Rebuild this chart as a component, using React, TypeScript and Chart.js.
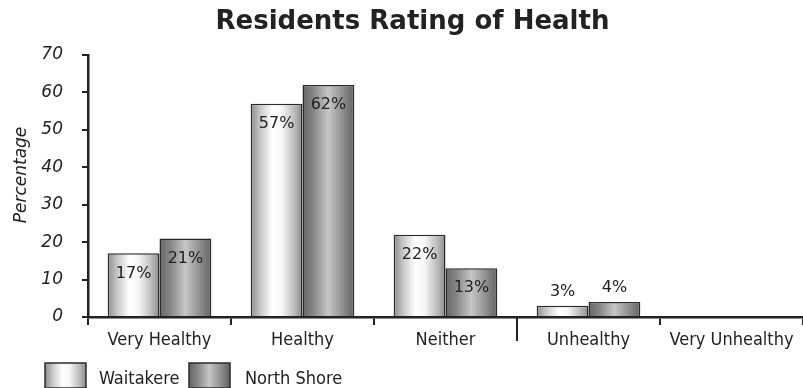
import { useEffect, useRef } from "react";
import { Chart, registerables } from "chart.js";

Chart.register(...registerables);

// ---- data ----
const categories = ["Very Healthy", "Healthy", "Neither", "Unhealthy", "Very Unhealthy"];
const seriesNames = ["Waitakere", "North Shore"];
const waitakere: (number | null)[] = [17, 57, 22, 3, null];
const northShore: (number | null)[] = [21, 62, 13, 4, null];
const yMin = 0;
const yMax = 70;
const yStep = 10;
const yAxisTitle = "Percentage";

// ---- styling ----
const INK = "#222222";
const EDGE = "#2b2b2b";
const CAT_PCT = 0.725;

type Stops = [number, string][];
const waitakereStops: Stops = [
  [0, "#8c8c8c"],
  [0.18, "#c6c6c6"],
  [0.42, "#ffffff"],
  [0.6, "#f6f6f6"],
  [0.84, "#bcbcbc"],
  [1, "#8a8a8a"],
];
const northShoreStops: Stops = [
  [0, "#666666"],
  [0.2, "#858585"],
  [0.5, "#c6c6c6"],
  [0.8, "#8a8a8a"],
  [1, "#626262"],
];
const seriesStops = [waitakereStops, northShoreStops];

function makeGradient(ctx: CanvasRenderingContext2D, left: number, width: number, stops: Stops) {
  const g = ctx.createLinearGradient(left, 0, left + width, 0);
  stops.forEach(([o, c]) => g.addColorStop(o, c));
  return g;
}

// Horizontal "cylinder" shading for each bar, computed from the category scale.
function barFill(stops: Stops, dsIndex: number) {
  return (c: any) => {
    const chart = c.chart;
    const x = chart.scales?.x;
    if (!x || c.dataIndex === undefined) return stops[2][1];
    const catW = x.width / categories.length;
    const groupW = catW * CAT_PCT;
    const barW = groupW / 2;
    const center = x.getPixelForValue(c.dataIndex);
    const left = center - groupW / 2 + dsIndex * barW;
    if (!Number.isFinite(left) || !Number.isFinite(barW) || barW <= 0) return stops[2][1];
    return makeGradient(chart.ctx, left, barW, stops);
  };
}

// Percentage labels: inside the top of tall bars, above short ones.
const valueLabels = {
  id: "valueLabels",
  afterDatasetsDraw(chart: any) {
    const ctx: CanvasRenderingContext2D = chart.ctx;
    ctx.save();
    ctx.font = "16px 'DejaVu Sans'";
    ctx.fillStyle = INK;
    ctx.textAlign = "center";
    ctx.textBaseline = "middle";
    chart.data.datasets.forEach((ds: any, di: number) => {
      const meta = chart.getDatasetMeta(di);
      meta.data.forEach((el: any, i: number) => {
        const v = ds.data[i];
        if (v == null) return;
        const y = v >= 10 ? el.y + 20 : el.y - 14;
        ctx.fillText(`${v}%`, el.x, y);
      });
    });
    ctx.restore();
  },
};

// Rotated y-axis caption, sitting a little above the plot's middle.
const yCaption = {
  id: "yCaption",
  afterDraw(chart: any) {
    const ctx: CanvasRenderingContext2D = chart.ctx;
    const area = chart.chartArea;
    ctx.save();
    ctx.translate(22, (area.top + area.bottom) / 2 - 11);
    ctx.rotate(-Math.PI / 2);
    ctx.font = "italic 17px 'DejaVu Sans'";
    ctx.fillStyle = INK;
    ctx.textAlign = "center";
    ctx.textBaseline = "middle";
    ctx.fillText(yAxisTitle, 0, 0);
    ctx.restore();
  },
};

// Longer divider tick between "Neither" and "Unhealthy".
const midDivider = {
  id: "midDivider",
  afterDraw(chart: any) {
    const x = chart.scales.x;
    const ctx: CanvasRenderingContext2D = chart.ctx;
    const px = (x.getPixelForValue(2) + x.getPixelForValue(3)) / 2;
    ctx.save();
    ctx.strokeStyle = INK;
    ctx.lineWidth = 2;
    ctx.beginPath();
    ctx.moveTo(px, chart.chartArea.bottom);
    ctx.lineTo(px, chart.chartArea.bottom + 24);
    ctx.stroke();
    ctx.restore();
  },
};

// Legend swatches in the bottom-left corner.
const swatchLegend = {
  id: "swatchLegend",
  afterDraw(chart: any) {
    const ctx: CanvasRenderingContext2D = chart.ctx;
    const boxW = 41;
    const boxH = 25;
    const top = chart.height - 25;
    const items = [
      { x: 45, textX: 99 },
      { x: 189, textX: 245 },
    ];
    ctx.save();
    items.forEach((it, i) => {
      ctx.fillStyle = makeGradient(ctx, it.x, boxW, seriesStops[i]);
      ctx.fillRect(it.x, top, boxW, boxH);
      ctx.strokeStyle = EDGE;
      ctx.lineWidth = 1.5;
      ctx.strokeRect(it.x, top, boxW, boxH);
      ctx.fillStyle = INK;
      ctx.font = "18px 'DejaVu Sans Condensed'";
      ctx.textAlign = "left";
      ctx.textBaseline = "middle";
      ctx.fillText(seriesNames[i], it.textX, top + 16);
    });
    ctx.restore();
  },
};

export default function App() {
  const canvasRef = useRef<HTMLCanvasElement | null>(null);

  useEffect(() => {
    const canvas = canvasRef.current;
    if (!canvas) return;
    const chart = new Chart(canvas, {
      type: "bar",
      data: {
        labels: categories,
        datasets: [
          {
            label: seriesNames[0],
            data: waitakere,
            backgroundColor: barFill(waitakereStops, 0),
            borderColor: EDGE,
            borderWidth: 1.5,
            categoryPercentage: CAT_PCT,
            barPercentage: 1,
          },
          {
            label: seriesNames[1],
            data: northShore,
            backgroundColor: barFill(northShoreStops, 1),
            borderColor: EDGE,
            borderWidth: 1.5,
            categoryPercentage: CAT_PCT,
            barPercentage: 1,
          },
        ],
      },
      options: {
        responsive: false,
        animation: false,
        devicePixelRatio: 1,
        layout: { padding: { left: 20, right: -2, top: 0, bottom: 31 } },
        plugins: {
          legend: { display: false },
          tooltip: { enabled: false },
          title: {
            display: true,
            text: "Residents Rating of Health",
            color: INK,
            font: { family: "'DejaVu Sans'", size: 26, weight: "bold" },
            padding: { top: 7, bottom: 16.8 },
          },
        },
        scales: {
          x: {
            type: "category",
            grid: {
              offset: true,
              drawOnChartArea: false,
              drawTicks: true,
              tickLength: 8,
              color: INK,
              lineWidth: 2,
            },
            border: { color: INK, width: 2.5 },
            ticks: {
              color: INK,
              font: { family: "'DejaVu Sans Condensed'", size: 18 },
              padding: 5,
              maxRotation: 0,
              autoSkip: false,
            },
            afterFit(scale: any) {
              scale.height = 40;
            },
          },
          y: {
            min: yMin,
            max: yMax,
            ticks: {
              stepSize: yStep,
              color: INK,
              font: { family: "'DejaVu Sans'", size: 17, style: "italic" },
              padding: 19,
            },
            grid: {
              drawOnChartArea: false,
              drawTicks: true,
              tickLength: 6,
              color: INK,
              lineWidth: 2,
            },
            border: { color: INK, width: 2.5 },
            afterFit(scale: any) {
              scale.width = 68;
            },
          },
        },
      } as any,
      plugins: [valueLabels, yCaption, midDivider, swatchLegend],
    });
    return () => chart.destroy();
  }, []);

  return (
    <div style={{ position: "fixed", left: 0, top: 0, width: 803, height: 388, background: "#fff" }}>
      <canvas ref={canvasRef} width={803} height={388} style={{ display: "block" }} />
    </div>
  );
}
